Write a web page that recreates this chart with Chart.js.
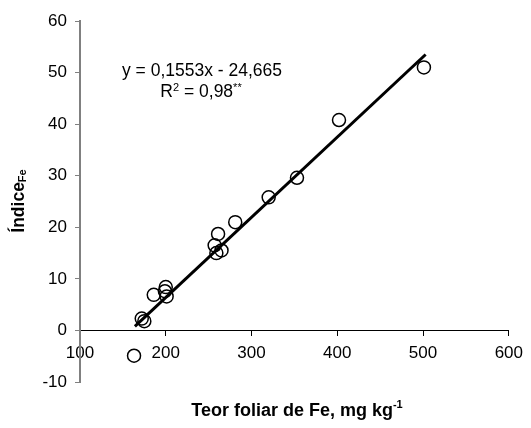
<!DOCTYPE html>
<html>
<head>
<meta charset="utf-8">
<script src="https://cdn.jsdelivr.net/npm/chart.js@4"></script>
<style>
  html, body { margin: 0; padding: 0; background: #fff; }
</style>
</head>
<body>
<canvas id="chartFe" width="531" height="428"></canvas>
<script>
// Leaf Fe content (mg/kg) vs Fe index
const feLeaf = [163, 172, 175, 186, 199, 200, 201, 257, 259, 261, 265, 281, 320, 353, 402, 501];
const indiceFe = [-4.9, 2.3, 1.8, 6.9, 7.6, 8.4, 6.6, 16.5, 15.0, 18.7, 15.5, 21.0, 25.8, 29.6, 40.8, 51.0];

// ends of the fitted line y = 0,1553x - 24,665
const fitX = [164, 503];
const fitY = [0.8, 53.5];

const xTicks = [100, 200, 300, 400, 500, 600];
const yTicks = [-10, 0, 10, 20, 30, 40, 50, 60];

const FONT = "'Liberation Sans', Arial, sans-serif";

// draw text pieces one after another, some raised or lowered
function drawRuns(ctx, runs, x, y, align) {
  let total = 0;
  runs.forEach(r => { ctx.font = r.font; total += ctx.measureText(r.text).width; });
  let cx = align === "center" ? x - total / 2 : x;
  runs.forEach(r => {
    ctx.font = r.font;
    ctx.fillText(r.text, cx, y + (r.dy || 0));
    cx += ctx.measureText(r.text).width;
  });
}

const textPlugin = {
  id: "texts",
  afterDraw(chart) {
    const ctx = chart.ctx;
    ctx.save();
    ctx.fillStyle = "#000";
    ctx.textAlign = "left";
    ctx.textBaseline = "middle";

    // equation
    drawRuns(ctx, [{ text: "y = 0,1553x - 24,665", font: "17.5px " + FONT }], 202, 71, "center");
    drawRuns(ctx, [
      { text: "R", font: "17.5px " + FONT },
      { text: "2", font: "11px " + FONT, dy: -4 },
      { text: " = 0,98", font: "17.5px " + FONT },
      { text: "**", font: "11px " + FONT, dy: -4 }
    ], 201, 92, "center");

    // x title, centred on the plot
    drawRuns(ctx, [
      { text: "Teor foliar de Fe, mg kg", font: "bold 18px " + FONT },
      { text: "-1", font: "bold 11px " + FONT, dy: -6 }
    ], 297, 411, "center");

    // y title (rotated)
    ctx.translate(19, 201);
    ctx.rotate(-Math.PI / 2);
    drawRuns(ctx, [
      { text: "Índice", font: "bold 17.5px " + FONT },
      { text: "Fe", font: "bold 11px " + FONT, dy: 4 }
    ], 0, 0, "center");
    ctx.restore();
  }
};

new Chart(document.getElementById("chartFe"), {
  type: "scatter",
  data: {
    datasets: [{
      label: "pontos",
      data: feLeaf.map((v, i) => ({ x: v, y: indiceFe[i] })),
      pointStyle: "circle",
      pointRadius: 6.5,
      pointBorderWidth: 1.5,
      pointBorderColor: "#000",
      pointBackgroundColor: "rgba(0,0,0,0)",
      showLine: false,
      order: 2
    },
    {
      label: "ajuste",
      type: "line",
      data: fitX.map((v, i) => ({ x: v, y: fitY[i] })),
      borderColor: "#000",
      borderWidth: 3,
      pointRadius: 0,
      fill: false,
      order: 1
    }]
  },
  options: {
    responsive: false,
    animation: false,
    layout: { padding: { left: 0, top: 21, right: 18, bottom: 46 } },
    plugins: {
      legend: { display: false },
      tooltip: { enabled: false }
    },
    scales: {
      x: {
        type: "linear",
        min: 100,
        max: 600,
        position: { y: 0 },
        afterBuildTicks: s => { s.ticks = xTicks.map(v => ({ value: v })); },
        ticks: { color: "#000", font: { family: FONT, size: 17 }, padding: 8 },
        grid: { drawOnChartArea: false, tickLength: 5, color: "#000" },
        border: { color: "#000", width: 1 }
      },
      y: {
        type: "linear",
        min: -10,
        max: 60,
        afterBuildTicks: s => { s.ticks = yTicks.map(v => ({ value: v })); },
        afterFit: s => { s.width = 80; },
        ticks: { color: "#000", font: { family: FONT, size: 17 }, padding: 8 },
        grid: { drawOnChartArea: false, tickLength: 5, color: "#808080" },
        border: { color: "#808080", width: 2 }
      }
    }
  },
  plugins: [textPlugin]
});
</script>
</body>
</html>
